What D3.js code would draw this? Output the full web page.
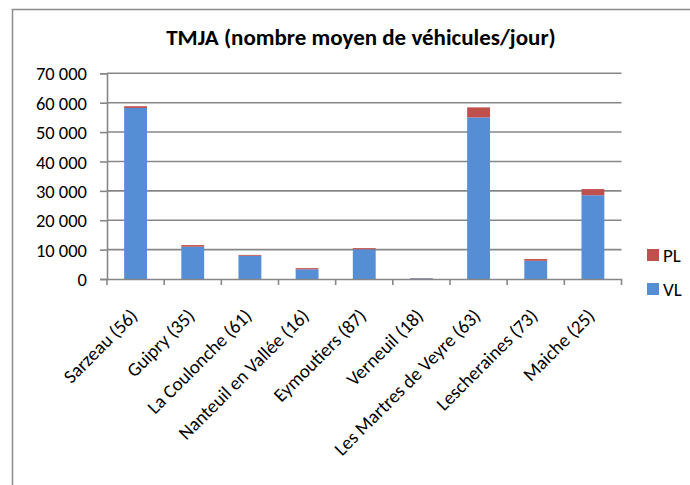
<!DOCTYPE html>
<html>
<head>
<meta charset="utf-8">
<script src="https://cdn.jsdelivr.net/npm/d3@7"></script>
<style>
  body { margin: 0; background: #fff; }
  svg text { font-family: Calibri, Carlito, Lato, sans-serif; fill: #000; }
</style>
</head>
<body>
<div id="chart"></div>
<script>
// data
const communes = ["Sarzeau (56)", "Guipry (35)", "La Coulonche (61)", "Nanteuil en Vallée (16)",
  "Eymoutiers (87)", "Verneuil (18)", "Les Martres de Veyre (63)", "Lescheraines (73)", "Maiche (25)"];
const vl = [58200, 11000, 7900, 3300, 10100, 250, 55000, 6200, 28500];
const pl = [600, 550, 300, 400, 400, 80, 3400, 600, 2100];
const yTicks = [0, 10000, 20000, 30000, 40000, 50000, 60000, 70000];
const yTickLabels = ["0", "10 000", "20 000", "30 000", "40 000", "50 000", "60 000", "70 000"];
const series = ["VL", "PL"];
const colors = {VL: "#558ed5", PL: "#c0504d"};

const width = 690, height = 485;
const plot = {left: 107, right: 621.5, top: 73.3, bottom: 279};
const axisColor = "#878787";

const svg = d3.select("#chart").append("svg")
    .attr("width", width)
    .attr("height", height);

// chart frame (right and bottom edges fall outside the picture)
svg.append("rect")
    .attr("x", 12.5).attr("y", 9.5)
    .attr("width", 720).attr("height", 520)
    .attr("fill", "#fff")
    .attr("stroke", "#8c8c8c")
    .attr("stroke-width", 1.5);

svg.append("text")
    .attr("x", 361).attr("y", 45)
    .attr("text-anchor", "middle")
    .style("font-weight", "bold")
    .style("font-size", "23px")
    .text("TMJA (nombre moyen de véhicules/jour)");

const x = d3.scaleBand()
    .domain(communes)
    .range([plot.left, plot.right])
    .paddingInner(0.6).paddingOuter(0.3);

// band for the category ticks
const xCat = d3.scaleBand().domain(communes).range([plot.left, plot.right]);

const y = d3.scaleLinear().domain([0, 70000]).range([plot.bottom, plot.top]);

// gridlines
svg.append("g")
  .selectAll("line")
  .data(yTicks.slice(1))
  .enter().append("line")
    .attr("x1", plot.left).attr("x2", plot.right)
    .attr("y1", d => y(d)).attr("y2", d => y(d))
    .attr("stroke", axisColor)
    .attr("stroke-width", 1.6);

// stacked bars
const rows = communes.map((c, i) => ({commune: c, VL: vl[i], PL: pl[i]}));
const stacked = d3.stack().keys(series)(rows);

svg.append("g")
  .selectAll("g")
  .data(stacked)
  .enter().append("g")
    .attr("fill", d => colors[d.key])
  .selectAll("rect")
  .data(d => d)
  .enter().append("rect")
    .attr("x", d => x(d.data.commune))
    .attr("y", d => y(d[1]))
    .attr("width", x.bandwidth())
    .attr("height", d => y(d[0]) - y(d[1]));

// y axis
const yAxis = svg.append("g")
    .attr("transform", "translate(" + plot.left + ",0)")
    .call(d3.axisLeft(y).tickValues(yTicks)
      .tickFormat((d, i) => yTickLabels[i]).tickSize(7).tickPadding(13));
yAxis.select(".domain").attr("stroke", axisColor).attr("stroke-width", 1.6);
yAxis.selectAll(".tick line").attr("stroke", axisColor).attr("stroke-width", 1.6);
yAxis.selectAll(".tick text").style("font-size", "18.5px").attr("dy", "0.36em");

// x axis
const xAxis = svg.append("g")
    .attr("transform", "translate(0," + plot.bottom + ")")
    .call(d3.axisBottom(xCat).tickSize(0).tickFormat(""));
xAxis.select(".domain").attr("stroke", axisColor).attr("stroke-width", 1.6);
xAxis.selectAll(".tick").remove();

// tick marks between categories
svg.append("g")
  .selectAll("line")
  .data(d3.range(communes.length + 1))
  .enter().append("line")
    .attr("x1", i => plot.left + i * xCat.step())
    .attr("x2", i => plot.left + i * xCat.step())
    .attr("y1", plot.bottom).attr("y2", plot.bottom + 6)
    .attr("stroke", axisColor)
    .attr("stroke-width", 1.6);

svg.append("g")
  .selectAll("text")
  .data(communes)
  .enter().append("text")
    .attr("transform", d => "translate(" + (xCat(d) + xCat.bandwidth() / 2 + 3) + "," + (plot.bottom + 38) + ") rotate(-45)")
    .attr("text-anchor", "end")
    .style("font-size", "19px")
    .text(d => d);

// legend
const legend = svg.append("g")
  .selectAll("g")
  .data(["PL", "VL"])
  .enter().append("g")
    .attr("transform", (d, i) => "translate(647," + (249 + i * 34) + ")");
legend.append("rect")
    .attr("width", 12).attr("height", 12)
    .attr("fill", d => colors[d]);
legend.append("text")
    .attr("x", 16).attr("y", 6).attr("dy", "0.36em")
    .style("font-size", "19px")
    .text(d => d);
</script>
</body>
</html>
